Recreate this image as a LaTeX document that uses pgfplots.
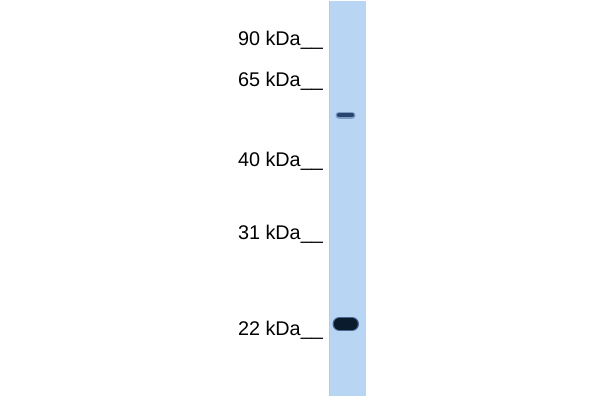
\documentclass[border=0pt]{standalone}
\usepackage{pgfplots}
\pgfplotsset{compat=1.18}
\usepackage{fontspec}
\setmainfont{Liberation Sans}
\definecolor{lane}{HTML}{B8D5F4}
\definecolor{laneedge}{HTML}{ABCBEF}
\definecolor{bandA}{HTML}{27466E}
\definecolor{bandAhalo}{HTML}{7E9DC4}
\definecolor{bandB}{HTML}{0B1B2E}
\definecolor{bandBhalo}{HTML}{4A678C}
\begin{document}
\begin{tikzpicture}
\begin{axis}[
  scale only axis,
  width=600bp, height=400bp,
  xmin=0, xmax=600, ymin=0, ymax=400,
  y dir=reverse,
  axis lines=none,
  clip=false,
  ]
  % background
  \addplot[fill=white, draw=none] coordinates {(0,0)(600,0)(600,400)(0,400)} -- cycle;
  % lane
  \addplot[fill=lane, draw=none] coordinates {(329,1)(366,1)(366,396)(329,396)} -- cycle;
  \addplot[laneedge, line width=1.2bp] coordinates {(329.6,1)(329.6,396)};
  % band near 55 kDa
  \addplot[bandAhalo, line width=7bp, line cap=round] coordinates {(339,115)(352,115)};
  \addplot[bandA, line width=4.5bp, line cap=round] coordinates {(339,115)(352,115)};
  % band near 22 kDa
  \addplot[bandBhalo, line width=14bp, line cap=round] coordinates {(339.5,324)(352,324)};
  \addplot[bandB, line width=11.5bp, line cap=round] coordinates {(339.5,324)(352,324)};
  % marker labels
  \foreach \y/\t in {45/90, 86/65, 166.5/40, 239/31, 335/22}{
    \edef\tmp{\noexpand\node[anchor=base east, inner sep=0pt, font=\noexpand\fontsize{19.8bp}{22bp}\noexpand\selectfont]
      at (axis cs:323,\y) {\t\space kDa\noexpand\_\noexpand\_};}
    \tmp
  }
\end{axis}
\end{tikzpicture}
\end{document}
